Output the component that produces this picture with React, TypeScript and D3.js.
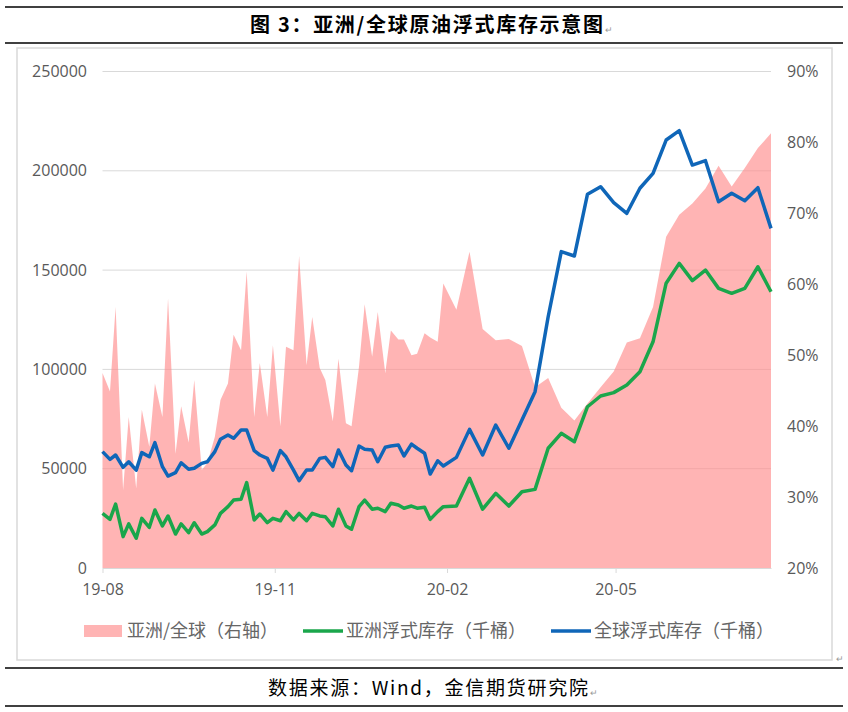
import { useRef, useEffect } from 'react';
import * as d3 from 'd3';

// 日期：2020-01-31 之前每周二、五各一个点，之后每周五一个点
const dates = [
  '2019-08-02', '2019-08-06', '2019-08-09', '2019-08-13', '2019-08-16', '2019-08-20', '2019-08-23', '2019-08-27',
  '2019-08-30', '2019-09-03', '2019-09-06', '2019-09-10', '2019-09-13', '2019-09-17', '2019-09-20', '2019-09-24',
  '2019-09-27', '2019-10-01', '2019-10-04', '2019-10-08', '2019-10-11', '2019-10-15', '2019-10-18', '2019-10-22',
  '2019-10-25', '2019-10-29', '2019-11-01', '2019-11-05', '2019-11-08', '2019-11-12', '2019-11-15', '2019-11-19',
  '2019-11-22', '2019-11-26', '2019-11-29', '2019-12-03', '2019-12-06', '2019-12-10', '2019-12-13', '2019-12-17',
  '2019-12-20', '2019-12-24', '2019-12-27', '2019-12-31', '2020-01-03', '2020-01-07', '2020-01-10', '2020-01-14',
  '2020-01-17', '2020-01-21', '2020-01-24', '2020-01-28', '2020-01-31',
  '2020-02-07', '2020-02-14', '2020-02-21', '2020-02-28', '2020-03-06', '2020-03-13', '2020-03-20', '2020-03-27',
  '2020-04-03', '2020-04-10', '2020-04-17', '2020-04-24', '2020-05-01', '2020-05-08', '2020-05-15', '2020-05-22',
  '2020-05-29', '2020-06-05', '2020-06-12', '2020-06-19', '2020-06-26', '2020-07-03', '2020-07-10', '2020-07-17',
  '2020-07-24',
];

// 亚洲/全球（右轴，%）
const asiaShare = [
  47.5, 44.9, 56.8, 31.0, 41.3, 31.2, 42.3, 37.1, 46.0, 41.3,
  58.0, 36.1, 42.8, 37.7, 46.5, 33.8, 34.8, 38.5, 43.7, 46.0,
  52.9, 50.7, 61.8, 41.3, 48.9, 41.3, 51.4, 40.0, 51.2, 50.7,
  64.0, 48.6, 55.4, 48.2, 46.5, 40.7, 49.5, 40.4, 40.0, 48.4,
  57.2, 49.8, 56.1, 47.5, 53.5, 52.2, 52.2, 50.0, 50.2, 53.1,
  52.5, 51.9, 60.1,
  56.4, 64.6, 53.7, 52.1, 52.3, 51.3, 45.5, 46.8, 42.6, 40.8,
  43.2, 45.5, 47.7, 51.8, 52.4, 56.8, 66.7, 69.8, 71.4, 73.5,
  76.7, 73.8, 76.4, 79.2, 81.3,
];

// 亚洲浮式库存（千桶）
const asiaFloating = [
  27500, 24500, 32200, 15800, 22200, 15000, 25000, 20500, 29200, 21200,
  26200, 17100, 22200, 17800, 22800, 17100, 18300, 21700, 27500, 30900,
  34200, 34600, 43000, 24200, 27200, 22800, 25000, 23800, 28400, 24200,
  27500, 23800, 27500, 26200, 25800, 21200, 29600, 21200, 19500, 30900,
  34200, 29600, 30100, 28400, 32600, 31700, 30100, 31200, 30100, 30600,
  24500, 28400, 30900,
  31200, 45200, 29600, 37600, 31200, 38400, 39600, 60300, 67800, 63600,
  81200, 86600, 88300, 92100, 98800, 113900, 143400, 153400, 144700, 150000,
  140800, 138300, 140800, 151700, 139100,
];

// 全球浮式库存（千桶）
const globalFloating = [
  58600, 54700, 56900, 50700, 53500, 49300, 58100, 56000, 63100, 51000,
  46300, 48000, 53000, 49700, 50200, 52700, 53500, 58600, 64800, 67000,
  65300, 69500, 69500, 59100, 56900, 55200, 49300, 59100, 56000, 49300,
  44000, 49300, 49300, 55200, 55700, 51000, 59400, 51900, 49000, 61400,
  59800, 59400, 53500, 60800, 61400, 61900, 56400, 62400, 60300, 57800,
  47300, 54000, 51400,
  55700, 69800, 56900, 72000, 60300, 74500, 88800, 126500, 159300, 157100,
  188200, 192000, 184000, 178600, 191200, 198700, 215500, 220200, 202900, 205100,
  184400, 188700, 184900, 191500, 171000,
];

const tickDates = ['2019-08-02', '2019-11-02', '2020-02-02', '2020-05-02'];
const leftTicks = [0, 50000, 100000, 150000, 200000, 250000];
const rightTicks = [20, 30, 40, 50, 60, 70, 80, 90];

const legendItems = ['亚洲/全球（右轴）', '亚洲浮式库存（千桶）', '全球浮式库存（千桶）'];
const title = '图 3：亚洲/全球原油浮式库存示意图';
const source = '数据来源：Wind，金信期货研究院';

const NUM_FONT = "'Open Sans', 'DejaVu Sans', sans-serif";
const CJK_FONT = "'Noto Sans CJK SC', sans-serif";
const PINK = '#ff8c8c';
const GREEN = '#1aa64b';
const BLUE = '#0f66b8';
const GRID = '#d9d9d9';
const LABEL = '#595959';

export default function App() {
    const chartRef = useRef<SVGSVGElement>(null);

    useEffect(() => {
        if (!chartRef.current) return;
        const svg = d3.select(chartRef.current);
        svg.selectAll('*').remove();

        const plot = { left: 102.5, right: 771, top: 71.5, bottom: 568 };
        const parse = d3.timeParse('%Y-%m-%d');
        const t = dates.map(d => parse(d)!);

        // Scales
        const x = d3.scaleTime()
            .domain([t[0], t[t.length - 1]])
            .range([plot.left, plot.right]);
        const yL = d3.scaleLinear().domain([0, 250000]).range([plot.bottom, plot.top]);
        const yR = d3.scaleLinear().domain([20, 90]).range([plot.bottom, plot.top]);

        svg.append('rect').attr('width', 848).attr('height', 712).attr('fill', '#fff');

        // Page rules
        [7, 43, 668, 706].forEach(yy => {
            svg.append('line')
                .attr('x1', 5).attr('x2', 843)
                .attr('y1', yy).attr('y2', yy)
                .attr('stroke', '#000').attr('stroke-width', 1.5);
        });

        // Title
        svg.append('text')
            .attr('x', 250).attr('y', 32)
            .attr('textLength', 353)
            .attr('lengthAdjust', 'spacing')
            .attr('font-family', CJK_FONT)
            .attr('font-weight', 'bold')
            .attr('font-size', 20)
            .attr('fill', '#000')
            .text(title);
        svg.append('text')
            .attr('x', 605).attr('y', 33)
            .attr('font-family', CJK_FONT).attr('font-size', 9).attr('fill', '#999')
            .text('↵');

        // Chart frame
        svg.append('rect')
            .attr('x', 17).attr('y', 48)
            .attr('width', 815).attr('height', 612)
            .attr('fill', '#fff')
            .attr('stroke', GRID).attr('stroke-width', 1.5);
        svg.append('text')
            .attr('x', 836).attr('y', 662)
            .attr('font-family', CJK_FONT).attr('font-size', 9).attr('fill', '#999')
            .text('↵');

        // Gridlines
        svg.append('g')
            .selectAll('line')
            .data(leftTicks.filter(v => v > 0))
            .enter()
            .append('line')
            .attr('x1', plot.left).attr('x2', plot.right)
            .attr('y1', d => yL(d)).attr('y2', d => yL(d))
            .attr('stroke', GRID).attr('stroke-width', 1);

        // Area: 亚洲/全球
        const area = d3.area<number>()
            .x((_, i) => x(t[i]))
            .y0(yR(20))
            .y1(d => yR(d));
        svg.append('path')
            .datum(asiaShare)
            .attr('d', area)
            .attr('fill', PINK)
            .attr('fill-opacity', 0.65);

        // Bottom axis
        const xAxis = svg.append('g')
            .attr('transform', `translate(0,${plot.bottom})`)
            .call(d3.axisBottom(x)
                .tickValues(tickDates.map(d => parse(d)!))
                .tickFormat(d3.timeFormat('%y-%m') as any)
                .tickSize(5)
                .tickSizeOuter(0)
                .tickPadding(11));
        xAxis.selectAll('.domain, .tick line').attr('stroke', GRID).attr('stroke-width', 1);
        xAxis.selectAll('text')
            .attr('fill', LABEL)
            .attr('font-family', NUM_FONT)
            .attr('font-size', 16);

        // Left axis
        const lAxis = svg.append('g')
            .attr('transform', `translate(${plot.left},0)`)
            .call(d3.axisLeft(yL).tickValues(leftTicks).tickFormat(d3.format('d') as any).tickSize(0).tickPadding(15.5));
        lAxis.select('.domain').remove();
        lAxis.selectAll('text')
            .attr('fill', LABEL)
            .attr('font-family', NUM_FONT)
            .attr('font-size', 16);

        // Right axis
        const rAxis = svg.append('g')
            .attr('transform', `translate(${plot.right},0)`)
            .call(d3.axisRight(yR).tickValues(rightTicks).tickFormat(d => `${d}%`).tickSize(0).tickPadding(16));
        rAxis.select('.domain').remove();
        rAxis.selectAll('text')
            .attr('fill', LABEL)
            .attr('font-family', NUM_FONT)
            .attr('font-size', 16);

        // Lines
        const line = d3.line<number>()
            .x((_, i) => x(t[i]))
            .y(d => yL(d));
        svg.append('path')
            .datum(asiaFloating)
            .attr('d', line)
            .attr('fill', 'none')
            .attr('stroke', GREEN)
            .attr('stroke-width', 3.5)
            .attr('stroke-linejoin', 'round');
        svg.append('path')
            .datum(globalFloating)
            .attr('d', line)
            .attr('fill', 'none')
            .attr('stroke', BLUE)
            .attr('stroke-width', 3.5)
            .attr('stroke-linejoin', 'round');

        // Legend
        const legendY = 631;
        const lg = svg.append('g');
        lg.append('rect')
            .attr('x', 84).attr('y', legendY - 6)
            .attr('width', 38).attr('height', 12)
            .attr('fill', PINK).attr('fill-opacity', 0.65);
        lg.append('line')
            .attr('x1', 303).attr('x2', 343)
            .attr('y1', legendY).attr('y2', legendY)
            .attr('stroke', GREEN).attr('stroke-width', 3.5);
        lg.append('line')
            .attr('x1', 551).attr('x2', 591)
            .attr('y1', legendY).attr('y2', legendY)
            .attr('stroke', BLUE).attr('stroke-width', 3.5);
        const legendTextX = [127, 346, 594];
        legendItems.forEach((s, i) => {
            lg.append('text')
                .attr('x', legendTextX[i]).attr('y', legendY)
                .attr('dy', '0.36em')
                .attr('font-family', CJK_FONT)
                .attr('font-size', 18)
                .attr('fill', '#666')
                .text(s);
        });

        // Source
        svg.append('text')
            .attr('x', 268).attr('y', 695)
            .attr('textLength', 320)
            .attr('lengthAdjust', 'spacing')
            .attr('font-family', CJK_FONT)
            .attr('font-size', 19)
            .attr('fill', '#000')
            .text(source);
        svg.append('text')
            .attr('x', 590).attr('y', 696)
            .attr('font-family', CJK_FONT).attr('font-size', 9).attr('fill', '#999')
            .text('↵');
    }, []);

    return (
        <svg
            ref={chartRef}
            width={848}
            height={712}
            style={{ position: 'absolute', left: 0, top: 0, display: 'block' }}
        />
    );
}
